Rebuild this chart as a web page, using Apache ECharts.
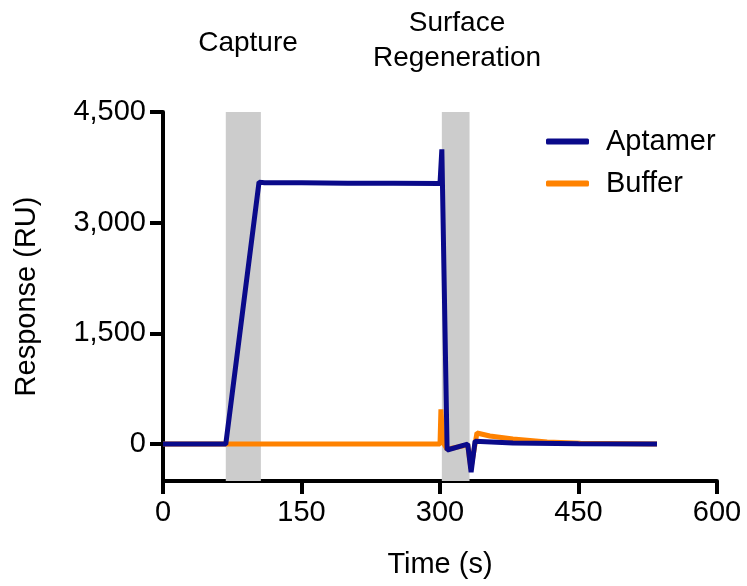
<!DOCTYPE html>
<html>
<head>
<meta charset="utf-8">
<script src="https://cdn.jsdelivr.net/npm/echarts@6/dist/echarts.min.js"></script>
<style>
  html, body { margin: 0; padding: 0; background: #fff; }
  #chart { width: 747px; height: 586px; }
</style>
</head>
<body>
<div id="chart"></div>
<script>
// time (s) / response (RU)
var aptamerTime = [0, 68, 104, 110, 150, 200, 250, 300, 302, 307.7, 330, 333.7, 338, 379, 450, 535];
var aptamerResp = [0, 0, 3550, 3540, 3540, 3535, 3535, 3530, 3995, -80, 0, -380, 40, 15, 5, 0];

var bufferTime = [0, 68, 150, 300, 301, 303, 307.7, 330, 333.5, 340, 354, 379, 416, 452, 535];
var bufferResp = [0, 0, 0, 0, 470, 30, -70, -10, -330, 150, 110, 70, 30, 10, 0];

var captureBand = [68, 106];
var regenBand = [302, 332];

var yTicks = [0, 1500, 3000, 4500];

function pairs(xs, ys) {
  return xs.map(function (x, i) { return [x, ys[i]]; });
}

var FONT = 'Liberation Sans, Arial, Helvetica, sans-serif';

var chart = echarts.init(document.getElementById('chart'));
chart.setOption({
  animation: false,
  textStyle: { fontFamily: FONT },
  grid: { left: 163, right: 30, top: 112, bottom: 105 },
  legend: {
    orient: 'vertical',
    left: 541,
    top: 122,
    itemWidth: 43,
    itemHeight: 6,
    itemGap: 13,
    icon: 'roundRect',
    data: ['Aptamer', 'Buffer'],
    textStyle: { fontSize: 29, color: '#000', fontFamily: FONT, padding: [0, 0, 0, 12] }
  },
  graphic: [
    { type: 'text', x: 248, y: 43, style: { text: 'Capture', fontSize: 28, fontFamily: FONT, fill: '#000', align: 'center', verticalAlign: 'middle' } },
    { type: 'text', x: 457, y: 41, style: { text: 'Surface\nRegeneration', fontSize: 28, lineHeight: 35, fontFamily: FONT, fill: '#000', align: 'center', verticalAlign: 'middle' } }
  ],
  xAxis: {
    type: 'value',
    min: 0,
    max: 600,
    interval: 150,
    name: 'Time (s)',
    nameLocation: 'middle',
    nameGap: 69,
    nameTextStyle: { fontSize: 29, color: '#000', fontFamily: FONT },
    axisLine: { onZero: false, lineStyle: { color: '#000', width: 4 } },
    axisTick: { length: 13, lineStyle: { color: '#000', width: 4 } },
    axisLabel: { fontSize: 29, color: '#000', margin: 17, fontFamily: FONT },
    splitLine: { show: false }
  },
  yAxis: {
    type: 'value',
    min: -500,
    max: 4500,
    interval: 500,
    name: 'Response (RU)',
    nameLocation: 'middle',
    nameGap: 122,
    nameTextStyle: { fontSize: 29, color: '#000', fontFamily: FONT },
    axisLine: { show: true, onZero: false, lineStyle: { color: '#000', width: 4 } },
    axisTick: { show: true, customValues: yTicks, length: 13, lineStyle: { color: '#000', width: 4 } },
    axisLabel: {
      customValues: yTicks,
      fontSize: 29, color: '#000', margin: 17, fontFamily: FONT,
      formatter: function (v) { return v.toLocaleString('en-US'); }
    },
    splitLine: { show: false }
  },
  series: [
    {
      name: 'Buffer',
      type: 'line',
      z: 2,
      showSymbol: false,
      symbol: 'none',
      color: '#ff8200',
      lineStyle: { width: 5, color: '#ff8200' },
      data: pairs(bufferTime, bufferResp),
      markArea: {
        silent: true,
        itemStyle: { color: '#cccccc' },
        data: [
          [{ xAxis: captureBand[0] }, { xAxis: captureBand[1] }],
          [{ xAxis: regenBand[0] }, { xAxis: regenBand[1] }]
        ]
      }
    },
    {
      name: 'Aptamer',
      type: 'line',
      z: 3,
      showSymbol: false,
      symbol: 'none',
      color: '#0a0a8a',
      lineStyle: { width: 5, color: '#0a0a8a' },
      data: pairs(aptamerTime, aptamerResp)
    }
  ]
});
</script>
</body>
</html>
